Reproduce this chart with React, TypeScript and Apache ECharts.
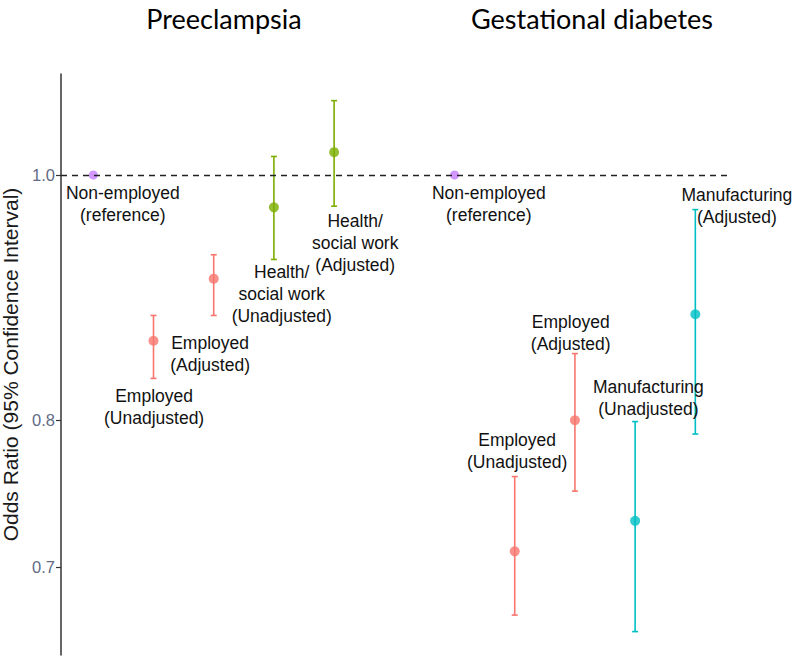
import React, { useEffect, useRef } from "react";
import * as echarts from "echarts";

// ---- data (odds ratios) ----
const xPositions = [1, 2, 3, 4, 5, 7, 8, 9, 10, 11];
const groups = [
  "Non-employed", "Employed", "Employed", "Health/social work", "Health/social work",
  "Non-employed", "Employed", "Employed", "Manufacturing", "Manufacturing",
];
const oddsRatio = [1.0, 0.86, 0.91, 0.971, 1.021, 1.0, 0.71, 0.80, 0.73, 0.881];
const ciLower = [null, 0.831, 0.880, 0.926, 0.972, null, 0.670, 0.750, 0.660, 0.790];
const ciUpper = [null, 0.880, 0.930, 1.017, 1.070, null, 0.760, 0.850, 0.799, 0.969];
const yTicks = [0.7, 0.8, 1.0];
const panelTitles = ["Preeclampsia", "Gestational diabetes"];

const annotationText = [
  "Non-employed\n(reference)", "Employed\n(Unadjusted)", "Employed\n(Adjusted)",
  "Health/\nsocial work\n(Unadjusted)", "Health/\nsocial work\n(Adjusted)",
  "Non-employed\n(reference)", "Employed\n(Unadjusted)", "Employed\n(Adjusted)",
  "Manufacturing\n(Unadjusted)", "Manufacturing\n(Adjusted)",
];
const annotationX = [1.49, 2.01, 2.94, 4.13, 5.35, 7.57, 8.04, 8.93, 10.22, 11.69];
const annotationOR = [0.974, 0.81, 0.85, 0.897, 0.94, 0.974, 0.778, 0.866, 0.816, 0.972];

const groupColors: Record<string, string> = {
  "Non-employed": "#C77CFF",
  Employed: "#F8766D",
  "Health/social work": "#7CAE00",
  Manufacturing: "#00BFC4",
};

const FONT = "'Liberation Sans', Arial, sans-serif";

export default function App() {
  const ref = useRef<HTMLDivElement>(null);
  useEffect(() => {
    if (!ref.current) return;
    const chart = echarts.init(ref.current, undefined, { renderer: "svg" });

    const pointData = xPositions.map((x, i) => ({
      value: [x, Math.log(oddsRatio[i])],
      symbolSize: groups[i] === "Non-employed" ? 9 : 10,
      itemStyle: { color: groupColors[groups[i]] },
    }));
    const errData = xPositions
      .map((x, i) =>
        ciLower[i] == null
          ? null
          : {
              value: [x, Math.log(ciLower[i] as number), Math.log(ciUpper[i] as number)],
              itemStyle: { color: groupColors[groups[i]] },
            }
      )
      .filter((d) => d !== null);
    const annData = annotationX.map((x, i) => ({
      value: [x, Math.log(annotationOR[i]), i],
    }));
    const tickLogs = yTicks.map((t) => Math.log(t));
    const titleStyle = { fontSize: 27, fontWeight: "normal", color: "#000", fontFamily: "Lato, sans-serif" };

    chart.setOption({
      animation: false,
      title: [
        { text: panelTitles[0], left: 219, top: 0, textAlign: "center", textStyle: titleStyle },
        { text: panelTitles[1], left: 587, top: 0, textAlign: "center", textStyle: titleStyle },
      ],
      grid: { left: 61, right: 62, top: 74, bottom: 1, containLabel: false, outerBoundsMode: "none" },
      xAxis: { type: "value", min: 0.4635, max: 11.576, show: false },
      yAxis: {
        type: "value",
        min: -0.4368,
        max: 0.0919,
        name: "Odds Ratio (95% Confidence Interval)",
        nameLocation: "middle",
        nameRotate: 90,
        nameGap: 36,
        nameTextStyle: { fontSize: 21, color: "#1a1a1a", fontFamily: FONT },
        axisLine: { show: true, lineStyle: { color: "#333", width: 1.5 } },
        axisTick: { show: true, length: 5, customValues: tickLogs, lineStyle: { color: "#333", width: 1.2 } },
        axisLabel: {
          customValues: tickLogs,
          formatter: (v: number) => Math.exp(v).toFixed(1),
          color: "#5f6b85",
          fontSize: 16.5,
          fontFamily: FONT,
          margin: 6,
        },
        splitLine: { show: false },
      },
      series: [
        {
          type: "custom",
          name: "ci",
          clip: false,
          z: 2,
          data: errData,
          renderItem: (params: any, api: any) => {
            const x = api.value(0);
            const pLo = api.coord([x, api.value(1)]);
            const pHi = api.coord([x, api.value(2)]);
            const color = api.visual("color");
            const style = { stroke: color, lineWidth: 1.6 };
            const w = 3;
            return {
              type: "group",
              children: [
                { type: "line", shape: { x1: pLo[0], y1: pLo[1], x2: pHi[0], y2: pHi[1] }, style },
                { type: "line", shape: { x1: pLo[0] - w, y1: pLo[1], x2: pLo[0] + w, y2: pLo[1] }, style },
                { type: "line", shape: { x1: pHi[0] - w, y1: pHi[1], x2: pHi[0] + w, y2: pHi[1] }, style },
              ],
            };
          },
        },
        {
          type: "scatter",
          name: "or",
          z: 3,
          symbol: "circle",
          data: pointData,
          markLine: {
            silent: true,
            symbol: "none",
            label: { show: false },
            lineStyle: { type: [6, 5], color: "#222", width: 1.3 },
            data: [{ yAxis: 0 }],
          },
        },
        {
          type: "custom",
          name: "labels",
          clip: false,
          z: 4,
          data: annData,
          renderItem: (params: any, api: any) => {
            const p = api.coord([api.value(0), api.value(1)]);
            const idx = api.value(2);
            return {
              type: "text",
              x: p[0],
              y: p[1],
              style: {
                text: annotationText[idx],
                align: "center",
                verticalAlign: "middle",
                fontSize: 17.5,
                lineHeight: 22,
                fontFamily: FONT,
                fill: "#111",
              },
            };
          },
        },
      ],
    });
    return () => chart.dispose();
  }, []);
  return (
    <div
      ref={ref}
      style={{ position: "absolute", left: 0, top: 0, width: 792, height: 656, background: "#fff" }}
    />
  );
}
